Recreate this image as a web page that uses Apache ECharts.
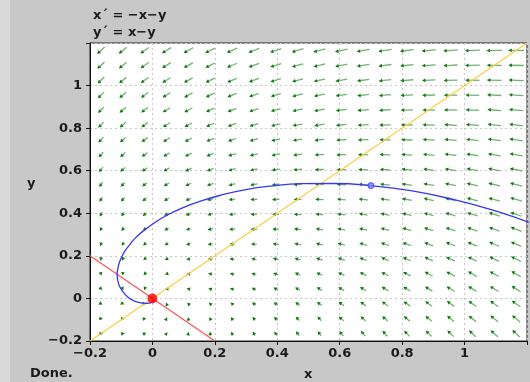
<!DOCTYPE html>
<html>
<head>
<meta charset="utf-8">
<script src="https://cdn.jsdelivr.net/npm/echarts@6/dist/echarts.min.js"></script>
<style>
  html, body { margin: 0; padding: 0; background: #c8c8c8; }
  #chart { width: 530px; height: 382px; }
</style>
</head>
<body>
<div id="chart"></div>
<script>
// 方向场网格点
const fieldX = [-0.165, -0.095, -0.025, 0.045, 0.115, 0.185, 0.255, 0.325, 0.395, 0.465,
  0.535, 0.605, 0.675, 0.745, 0.815, 0.885, 0.955, 1.025, 1.095, 1.165]
const fieldY = [-0.165, -0.095, -0.025, 0.045, 0.115, 0.185, 0.255, 0.325, 0.395, 0.465,
  0.535, 0.605, 0.675, 0.745, 0.815, 0.885, 0.955, 1.025, 1.095, 1.165]

// 轨线
const orbit = [
  [1.206, 0.357], [1.114, 0.404], [0.967, 0.464], [0.828, 0.506], [0.7, 0.53],
  [0.582, 0.54], [0.475, 0.539], [0.38, 0.528], [0.295, 0.51], [0.219, 0.485],
  [0.154, 0.457], [0.096, 0.425], [0.048, 0.392], [0.008, 0.357], [-0.025, 0.322],
  [-0.052, 0.288], [-0.072, 0.254], [-0.088, 0.223], [-0.099, 0.192], [-0.107, 0.164],
  [-0.111, 0.138], [-0.113, 0.114], [-0.112, 0.093], [-0.109, 0.073], [-0.105, 0.056],
  [-0.093, 0.028], [-0.079, 0.007], [-0.065, -0.007], [-0.051, -0.016], [-0.038, -0.021],
  [-0.022, -0.023], [-0.011, -0.022], [-0.001, -0.016], [0.004, -0.009], [0.005, -0.002]
]
const startPoint = [0.7, 0.53]
const equilibrium = [0, 0]
// 零斜率线
const nullX = [[-0.2, 0.2], [0.2, -0.2]]   // x' = 0
const nullY = [[-0.2, -0.2], [1.2, 1.2]]   // y' = 0

const fieldPoints = []
fieldX.forEach(x => {
  fieldY.forEach(y => {
    fieldPoints.push([x, y])
  })
})

const fmt = v => (v > 1.1 ? '' : String(Number(v.toFixed(1))).replace('-', '−'))
const labelFont = { color: '#1a1a1a', fontSize: 13, fontWeight: 'bold', fontFamily: 'DejaVu Sans' }

let myChart = echarts.init(document.getElementById('chart'))
let option = {
  backgroundColor: '#c8c8c8',
  animation: false,
  title: [
    { text: 'x´ = −x−y', left: 88, top: 4, textStyle: labelFont },
    { text: 'y´ = x−y', left: 88, top: 21, textStyle: labelFont }
  ],
  graphic: [
    { type: 'rect', left: 0, top: 0, shape: { width: 10, height: 382 }, style: { fill: '#dadada' }, z: -1 },
    { type: 'text', left: 30, top: 367, style: Object.assign({ text: 'Done.' }, labelFont, { fill: '#1a1a1a' }) },
    { type: 'text', left: 304, top: 368, style: Object.assign({ text: 'x' }, labelFont, { fill: '#1a1a1a' }) },
    { type: 'text', left: 27, top: 177, style: Object.assign({ text: 'y' }, labelFont, { fill: '#1a1a1a' }) }
  ],
  grid: {
    left: 90,
    top: 43,
    right: 1,
    bottom: 41,
    show: true,
    backgroundColor: '#fff',
    borderColor: '#222',
    borderWidth: 1
  },
  xAxis: {
    type: 'value',
    min: -0.2,
    max: 1.2,
    interval: 0.2,
    axisLine: { onZero: false, lineStyle: { color: '#111' } },
    axisTick: { show: true, length: 4, lineStyle: { color: '#111' } },
    axisLabel: Object.assign({ margin: 6, hideOverlap: false, formatter: fmt }, labelFont),
    splitLine: { lineStyle: { color: '#c8c8c8', type: [2, 3] } }
  },
  yAxis: {
    type: 'value',
    min: -0.2,
    max: 1.2,
    interval: 0.2,
    axisLine: { onZero: false, lineStyle: { color: '#111' } },
    axisTick: { show: true, length: 4, lineStyle: { color: '#111' } },
    axisLabel: Object.assign({ margin: 8, formatter: fmt }, labelFont),
    splitLine: { lineStyle: { color: '#c8c8c8', type: [2, 3] } }
  },
  series: [
    {
      // 方向场箭头
      type: 'custom',
      data: fieldPoints,
      renderItem: (params, api) => {
        const x = api.value(0)
        const y = api.value(1)
        const vx = -x - y
        const vy = x - y
        const p0 = api.coord([x, y])
        const p1 = api.coord([x + vx, y + vy])
        const dx = p1[0] - p0[0]
        const dy = p1[1] - p0[1]
        const mag = Math.sqrt(dx * dx + dy * dy) || 1
        const ux = dx / mag
        const uy = dy / mag
        const len = 2.5 + 0.0183 * mag
        const sx = p0[0] - ux * len / 2
        const sy = p0[1] - uy * len / 2
        const tx = p0[0] + ux * len / 2
        const ty = p0[1] + uy * len / 2
        const h = 3.5
        const w = 1.9
        const bx = tx - ux * h
        const by = ty - uy * h
        return {
          type: 'group',
          children: [
            {
              type: 'line',
              shape: { x1: sx, y1: sy, x2: bx + ux, y2: by + uy },
              style: { stroke: '#6fb36f', lineWidth: 1.3 }
            },
            {
              type: 'polygon',
              shape: { points: [[tx, ty], [bx - uy * w, by + ux * w], [bx + uy * w, by - ux * w]] },
              style: { fill: '#117a11' }
            }
          ]
        }
      },
      z: 1
    },
    {
      type: 'line',
      data: nullY,
      showSymbol: false,
      lineStyle: { color: '#ffcc40', width: 1.2 },
      z: 2
    },
    {
      type: 'line',
      data: nullX,
      showSymbol: false,
      lineStyle: { color: '#ff5050', width: 1.2 },
      z: 2
    },
    {
      type: 'line',
      data: orbit,
      smooth: true,
      showSymbol: false,
      lineStyle: { color: '#3535ff', width: 1.3 },
      z: 3
    },
    {
      type: 'scatter',
      data: [startPoint],
      symbolSize: 6,
      itemStyle: { color: '#7080ff', borderColor: '#3535ff', borderWidth: 1 },
      z: 4
    },
    {
      type: 'scatter',
      data: [equilibrium],
      symbolSize: 10,
      itemStyle: { color: '#ff0000' },
      z: 5
    }
  ]
}
myChart.setOption(option)
</script>
</body>
</html>
